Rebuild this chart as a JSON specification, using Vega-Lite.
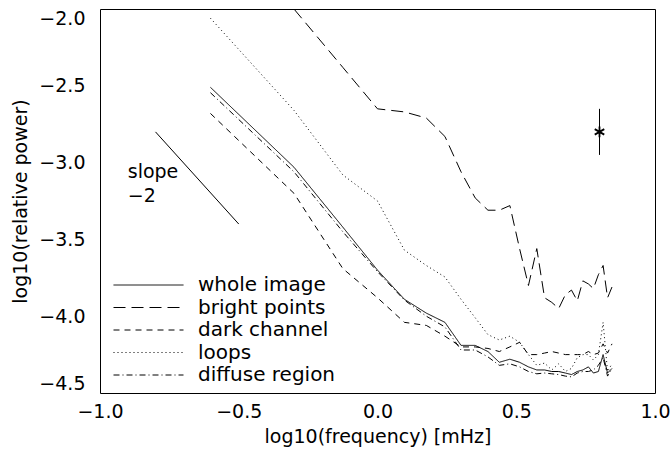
{
  "$schema": "https://vega.github.io/schema/vega-lite/v6.json",
  "width": 555,
  "height": 384,
  "autosize": {"type": "none"},
  "padding": {"left": 100, "top": 9, "right": 17, "bottom": 66},
  "background": "white",
  "config": {
    "view": {"stroke": "black", "strokeWidth": 1},
    "font": "DejaVu Sans"
  },
  "datasets": {
    "curves": [
      {"series": "whole image", "logf": -0.602, "logp": -2.51},
      {"series": "whole image", "logf": -0.301, "logp": -3.03},
      {"series": "whole image", "logf": -0.125, "logp": -3.42},
      {"series": "whole image", "logf": 0.0, "logp": -3.70},
      {"series": "whole image", "logf": 0.097, "logp": -3.89},
      {"series": "whole image", "logf": 0.176, "logp": -3.98},
      {"series": "whole image", "logf": 0.243, "logp": -4.04},
      {"series": "whole image", "logf": 0.301, "logp": -4.19},
      {"series": "whole image", "logf": 0.352, "logp": -4.19},
      {"series": "whole image", "logf": 0.398, "logp": -4.23},
      {"series": "whole image", "logf": 0.439, "logp": -4.30},
      {"series": "whole image", "logf": 0.477, "logp": -4.28},
      {"series": "whole image", "logf": 0.512, "logp": -4.30},
      {"series": "whole image", "logf": 0.544, "logp": -4.33},
      {"series": "whole image", "logf": 0.574, "logp": -4.35},
      {"series": "whole image", "logf": 0.602, "logp": -4.35},
      {"series": "whole image", "logf": 0.628, "logp": -4.36},
      {"series": "whole image", "logf": 0.653, "logp": -4.36},
      {"series": "whole image", "logf": 0.677, "logp": -4.37},
      {"series": "whole image", "logf": 0.699, "logp": -4.38},
      {"series": "whole image", "logf": 0.720, "logp": -4.36},
      {"series": "whole image", "logf": 0.740, "logp": -4.35},
      {"series": "whole image", "logf": 0.760, "logp": -4.33},
      {"series": "whole image", "logf": 0.778, "logp": -4.37},
      {"series": "whole image", "logf": 0.796, "logp": -4.36},
      {"series": "whole image", "logf": 0.813, "logp": -4.25},
      {"series": "whole image", "logf": 0.829, "logp": -4.37},
      {"series": "whole image", "logf": 0.845, "logp": -4.34},

      {"series": "bright points", "logf": -0.301, "logp": -2.00},
      {"series": "bright points", "logf": -0.125, "logp": -2.38},
      {"series": "bright points", "logf": 0.0, "logp": -2.65},
      {"series": "bright points", "logf": 0.097, "logp": -2.67},
      {"series": "bright points", "logf": 0.176, "logp": -2.71},
      {"series": "bright points", "logf": 0.243, "logp": -2.83},
      {"series": "bright points", "logf": 0.301, "logp": -3.06},
      {"series": "bright points", "logf": 0.352, "logp": -3.23},
      {"series": "bright points", "logf": 0.398, "logp": -3.31},
      {"series": "bright points", "logf": 0.439, "logp": -3.31},
      {"series": "bright points", "logf": 0.477, "logp": -3.28},
      {"series": "bright points", "logf": 0.512, "logp": -3.56},
      {"series": "bright points", "logf": 0.544, "logp": -3.80},
      {"series": "bright points", "logf": 0.574, "logp": -3.56},
      {"series": "bright points", "logf": 0.602, "logp": -3.88},
      {"series": "bright points", "logf": 0.628, "logp": -3.91},
      {"series": "bright points", "logf": 0.653, "logp": -3.95},
      {"series": "bright points", "logf": 0.677, "logp": -3.86},
      {"series": "bright points", "logf": 0.699, "logp": -3.83},
      {"series": "bright points", "logf": 0.720, "logp": -3.90},
      {"series": "bright points", "logf": 0.740, "logp": -3.77},
      {"series": "bright points", "logf": 0.760, "logp": -3.79},
      {"series": "bright points", "logf": 0.778, "logp": -3.82},
      {"series": "bright points", "logf": 0.796, "logp": -3.73},
      {"series": "bright points", "logf": 0.813, "logp": -3.67},
      {"series": "bright points", "logf": 0.829, "logp": -3.88},
      {"series": "bright points", "logf": 0.845, "logp": -3.81},

      {"series": "dark channel", "logf": -0.602, "logp": -2.68},
      {"series": "dark channel", "logf": -0.301, "logp": -3.20},
      {"series": "dark channel", "logf": -0.125, "logp": -3.69},
      {"series": "dark channel", "logf": 0.0, "logp": -3.88},
      {"series": "dark channel", "logf": 0.097, "logp": -4.04},
      {"series": "dark channel", "logf": 0.176, "logp": -4.06},
      {"series": "dark channel", "logf": 0.243, "logp": -4.13},
      {"series": "dark channel", "logf": 0.301, "logp": -4.20},
      {"series": "dark channel", "logf": 0.352, "logp": -4.20},
      {"series": "dark channel", "logf": 0.398, "logp": -4.21},
      {"series": "dark channel", "logf": 0.439, "logp": -4.23},
      {"series": "dark channel", "logf": 0.477, "logp": -4.20},
      {"series": "dark channel", "logf": 0.512, "logp": -4.17},
      {"series": "dark channel", "logf": 0.544, "logp": -4.25},
      {"series": "dark channel", "logf": 0.574, "logp": -4.25},
      {"series": "dark channel", "logf": 0.602, "logp": -4.24},
      {"series": "dark channel", "logf": 0.628, "logp": -4.23},
      {"series": "dark channel", "logf": 0.653, "logp": -4.24},
      {"series": "dark channel", "logf": 0.677, "logp": -4.25},
      {"series": "dark channel", "logf": 0.699, "logp": -4.25},
      {"series": "dark channel", "logf": 0.720, "logp": -4.25},
      {"series": "dark channel", "logf": 0.740, "logp": -4.25},
      {"series": "dark channel", "logf": 0.760, "logp": -4.23},
      {"series": "dark channel", "logf": 0.778, "logp": -4.25},
      {"series": "dark channel", "logf": 0.796, "logp": -4.24},
      {"series": "dark channel", "logf": 0.813, "logp": -4.18},
      {"series": "dark channel", "logf": 0.829, "logp": -4.24},
      {"series": "dark channel", "logf": 0.845, "logp": -4.18},

      {"series": "loops", "logf": -0.602, "logp": -2.06},
      {"series": "loops", "logf": -0.301, "logp": -2.66},
      {"series": "loops", "logf": -0.125, "logp": -3.08},
      {"series": "loops", "logf": 0.0, "logp": -3.25},
      {"series": "loops", "logf": 0.097, "logp": -3.57},
      {"series": "loops", "logf": 0.176, "logp": -3.67},
      {"series": "loops", "logf": 0.243, "logp": -3.745},
      {"series": "loops", "logf": 0.301, "logp": -3.89},
      {"series": "loops", "logf": 0.352, "logp": -4.01},
      {"series": "loops", "logf": 0.398, "logp": -4.12},
      {"series": "loops", "logf": 0.439, "logp": -4.155},
      {"series": "loops", "logf": 0.477, "logp": -4.13},
      {"series": "loops", "logf": 0.512, "logp": -4.17},
      {"series": "loops", "logf": 0.544, "logp": -4.25},
      {"series": "loops", "logf": 0.574, "logp": -4.32},
      {"series": "loops", "logf": 0.602, "logp": -4.305},
      {"series": "loops", "logf": 0.628, "logp": -4.35},
      {"series": "loops", "logf": 0.653, "logp": -4.31},
      {"series": "loops", "logf": 0.677, "logp": -4.36},
      {"series": "loops", "logf": 0.699, "logp": -4.34},
      {"series": "loops", "logf": 0.720, "logp": -4.27},
      {"series": "loops", "logf": 0.740, "logp": -4.25},
      {"series": "loops", "logf": 0.760, "logp": -4.25},
      {"series": "loops", "logf": 0.778, "logp": -4.285},
      {"series": "loops", "logf": 0.796, "logp": -4.25},
      {"series": "loops", "logf": 0.813, "logp": -4.04},
      {"series": "loops", "logf": 0.829, "logp": -4.36},
      {"series": "loops", "logf": 0.845, "logp": -4.31},

      {"series": "diffuse region", "logf": -0.602, "logp": -2.545},
      {"series": "diffuse region", "logf": -0.301, "logp": -3.06},
      {"series": "diffuse region", "logf": -0.125, "logp": -3.45},
      {"series": "diffuse region", "logf": 0.0, "logp": -3.71},
      {"series": "diffuse region", "logf": 0.097, "logp": -3.895},
      {"series": "diffuse region", "logf": 0.176, "logp": -4.00},
      {"series": "diffuse region", "logf": 0.243, "logp": -4.07},
      {"series": "diffuse region", "logf": 0.301, "logp": -4.22},
      {"series": "diffuse region", "logf": 0.352, "logp": -4.22},
      {"series": "diffuse region", "logf": 0.398, "logp": -4.265},
      {"series": "diffuse region", "logf": 0.439, "logp": -4.32},
      {"series": "diffuse region", "logf": 0.477, "logp": -4.31},
      {"series": "diffuse region", "logf": 0.512, "logp": -4.33},
      {"series": "diffuse region", "logf": 0.544, "logp": -4.36},
      {"series": "diffuse region", "logf": 0.574, "logp": -4.375},
      {"series": "diffuse region", "logf": 0.602, "logp": -4.37},
      {"series": "diffuse region", "logf": 0.628, "logp": -4.375},
      {"series": "diffuse region", "logf": 0.653, "logp": -4.38},
      {"series": "diffuse region", "logf": 0.677, "logp": -4.39},
      {"series": "diffuse region", "logf": 0.699, "logp": -4.395},
      {"series": "diffuse region", "logf": 0.720, "logp": -4.37},
      {"series": "diffuse region", "logf": 0.740, "logp": -4.36},
      {"series": "diffuse region", "logf": 0.760, "logp": -4.36},
      {"series": "diffuse region", "logf": 0.778, "logp": -4.35},
      {"series": "diffuse region", "logf": 0.796, "logp": -4.32},
      {"series": "diffuse region", "logf": 0.813, "logp": -4.27},
      {"series": "diffuse region", "logf": 0.829, "logp": -4.39},
      {"series": "diffuse region", "logf": 0.845, "logp": -4.34}
    ],
    "slope": [{"logf": -0.8, "logp": -2.8, "logf2": -0.5, "logp2": -3.4}],
    "marker": [{"logf": 0.8, "logp": -2.8, "lo": -2.95, "hi": -2.65}],
    "notes": [
      {"text": "slope", "logf": -0.9, "logp": -3.06},
      {"text": "−2", "logf": -0.9, "logp": -3.22}
    ]
  },
  "layer": [
    {
      "data": {"name": "curves"},
      "mark": {"type": "line", "stroke": "black", "strokeWidth": 1, "clip": true},
      "encoding": {
        "x": {
          "field": "logf", "type": "quantitative",
          "scale": {"domain": [-1, 1], "nice": false, "zero": false},
          "axis": {
            "orient": "bottom", "values": [-1, -0.5, 0, 0.5, 1], "format": ".1f",
            "domain": false, "ticks": false, "grid": false,
            "labelColor": "black", "labelFont": "DejaVu Sans", "labelFontSize": 19,
            "labelPadding": 18, "labelBaseline": "middle",
            "labelFlush": false, "labelOverlap": false,
            "title": "log10(frequency) [mHz]", "titlePadding": 6,
            "titleColor": "black", "titleFont": "DejaVu Sans", "titleFontSize": 19, "titleFontWeight": "normal"
          }
        },
        "y": {
          "field": "logp", "type": "quantitative",
          "scale": {"domain": [-4.5, -2.0], "nice": false, "zero": false},
          "axis": {
            "orient": "left", "values": [-4.5, -4, -3.5, -3, -2.5, -2], "format": ".1f",
            "domain": false, "ticks": false, "grid": false,
            "labelColor": "black", "labelFont": "DejaVu Sans", "labelFontSize": 19,
            "labelPadding": 15, "labelFlush": true, "labelOverlap": false,
            "title": "log10(relative power)", "titlePadding": 8,
            "titleColor": "black", "titleFont": "DejaVu Sans", "titleFontSize": 19, "titleFontWeight": "normal"
          }
        },
        "strokeDash": {
          "field": "series", "type": "nominal",
          "scale": {
            "domain": ["whole image", "bright points", "dark channel", "loops", "diffuse region"],
            "range": [[1, 0], [12, 6], [6, 5], [1, 3], [6, 3, 1, 3]]
          },
          "legend": {
            "orient": "none", "legendX": 13, "legendY": 265, "title": null,
            "symbolType": "stroke", "symbolSize": 4900, "symbolStrokeWidth": 1,
            "symbolStrokeColor": "black", "clipHeight": 22, "rowPadding": 0.5,
            "labelOffset": 14, "labelFontSize": 20, "labelFont": "DejaVu Sans",
            "labelColor": "black", "labelLimit": 400, "padding": 0
          }
        }
      }
    },
    {
      "data": {"name": "slope"},
      "mark": {"type": "rule", "stroke": "black", "strokeWidth": 1},
      "encoding": {
        "x": {"field": "logf", "type": "quantitative"},
        "y": {"field": "logp", "type": "quantitative"},
        "x2": {"field": "logf2"},
        "y2": {"field": "logp2"}
      }
    },
    {
      "data": {"name": "marker"},
      "mark": {"type": "rule", "stroke": "black", "strokeWidth": 1},
      "encoding": {
        "x": {"field": "logf", "type": "quantitative"},
        "y": {"field": "lo", "type": "quantitative"},
        "y2": {"field": "hi"}
      }
    },
    {
      "data": {"name": "marker"},
      "mark": {"type": "point", "shape": "M0,-1V1M-0.87,-0.5L0.87,0.5M-0.87,0.5L0.87,-0.5", "filled": false, "stroke": "black", "strokeWidth": 1.8, "size": 120, "opacity": 1},
      "encoding": {
        "x": {"field": "logf", "type": "quantitative"},
        "y": {"field": "logp", "type": "quantitative"}
      }
    },
    {
      "data": {"name": "notes"},
      "mark": {"type": "text", "align": "left", "baseline": "middle", "fontSize": 19, "font": "DejaVu Sans", "color": "black"},
      "encoding": {
        "x": {"field": "logf", "type": "quantitative"},
        "y": {"field": "logp", "type": "quantitative"},
        "text": {"field": "text", "type": "nominal"}
      }
    }
  ]
}
